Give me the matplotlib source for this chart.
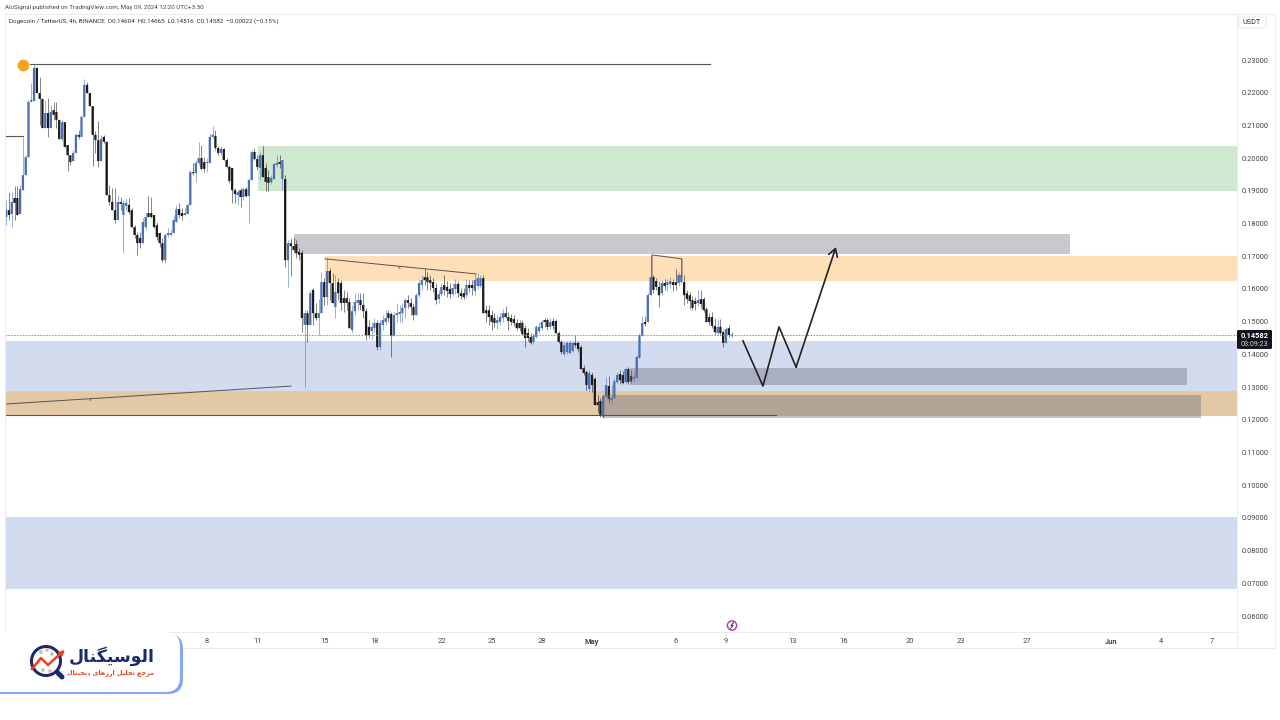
import numpy as np
import matplotlib
matplotlib.use("Agg")
import matplotlib.pyplot as plt
from matplotlib.patches import Circle, FancyBboxPatch

# DOGE/USDT 4h candles, prices in 1/10000 USDT
opens = [
    1820,1841,1829,1878,1878,1829,1902,1948,2003,2172,
    2175,2276,2199,2181,2092,2138,2092,2147,2141,2117,
    2058,2110,2040,2009,1991,2016,2071,2065,2126,2224,
    2199,2159,2071,2055,1991,2065,2050,1887,1866,1841,
    1811,1866,1826,1854,1857,1841,1789,1765,1756,1740,
    1789,1832,1832,1826,1795,1771,1740,1688,1765,1765,
    1771,1805,1844,1832,1826,1829,1857,1957,1954,1985,
    2000,1988,1985,1985,2065,2068,2031,2016,2028,1994,
    1973,1970,1902,1887,1902,1881,1905,1884,1933,2019,
    1997,1970,2009,1970,1942,1927,1936,1979,1988,1936,
    1936,1688,1740,1731,1737,1713,1710,1490,1526,1490,
    1597,1526,1511,1526,1621,1575,1655,1618,1545,1621,
    1618,1572,1572,1560,1474,1532,1557,1566,1551,1532,
    1484,1471,1480,1496,1422,1490,1499,1526,1523,1456,
    1520,1523,1526,1542,1566,1557,1545,1520,1581,1612,
    1636,1636,1627,1621,1603,1569,1584,1612,1606,1600,
    1584,1600,1615,1587,1587,1581,1612,1612,1594,1609,
    1609,1633,1535,1535,1520,1511,1496,1499,1511,1526,
    1514,1511,1508,1496,1496,1496,1480,1465,1453,1438,
    1453,1471,1480,1505,1505,1484,1502,1502,1465,1438,
    1401,1407,1404,1410,1435,1435,1422,1358,1346,1294,
    1337,1325,1254,1257,1208,1270,1303,1260,1266,1315,
    1340,1337,1315,1355,1334,1325,1328,1389,1456,1499,
    1499,1581,1636,1624,1606,1587,1618,1612,1615,1621,
    1621,1618,1621,1621,1587,1581,1566,1563,1557,1569,
    1569,1538,1514,1514,1487,1465,1484,1468,1435,1480,
    1460,
]
closes = [
    1841,1826,1866,1863,1826,1905,1948,2003,2172,2178,
    2276,2199,2181,2092,2138,2092,2141,2132,2117,2058,
    2110,2034,2009,1988,2016,2071,2065,2126,2224,2199,
    2159,2071,2055,1991,2058,2050,1887,1866,1841,1811,
    1866,1860,1863,1863,1835,1789,1765,1740,1740,1805,
    1820,1820,1820,1789,1759,1740,1688,1765,1771,1771,
    1811,1844,1826,1823,1832,1857,1957,1954,1985,2000,
    1967,1967,1988,2065,2071,2031,2016,2028,1994,1973,
    1930,1902,1890,1896,1881,1905,1884,1933,2019,1997,
    1973,2009,1942,1927,1924,1939,1982,1985,1982,1994,
    1688,1740,1731,1719,1710,1704,1511,1526,1490,1587,
    1526,1511,1526,1621,1575,1655,1618,1557,1591,1587,
    1557,1557,1557,1480,1532,1560,1566,1551,1532,1459,
    1459,1484,1496,1422,1496,1505,1511,1511,1456,1520,
    1526,1529,1542,1566,1557,1545,1520,1581,1618,1627,
    1627,1621,1618,1603,1566,1584,1606,1597,1594,1584,
    1603,1615,1587,1578,1575,1612,1603,1603,1627,1633,
    1633,1526,1526,1514,1499,1496,1505,1514,1526,1514,
    1502,1499,1496,1480,1480,1462,1450,1450,1435,1456,
    1484,1484,1499,1499,1484,1499,1487,1465,1438,1407,
    1428,1435,1435,1435,1428,1416,1355,1343,1306,1343,
    1306,1245,1245,1214,1273,1306,1263,1266,1318,1337,
    1321,1312,1355,1315,1318,1331,1392,1459,1496,1493,
    1581,1636,1597,1606,1581,1618,1609,1621,1624,1612,
    1612,1643,1643,1581,1569,1563,1542,1554,1566,1554,
    1535,1499,1499,1487,1468,1484,1465,1435,1477,1459,
    1458,
]
highs = [
    1872,1896,1896,1915,1915,1918,2065,2009,2178,2230,
    2288,2276,2248,2181,2178,2184,2162,2172,2172,2117,
    2117,2110,2040,2009,2025,2077,2086,2132,2242,2233,
    2199,2159,2083,2113,2071,2071,2050,1918,1909,1909,
    1887,1881,1872,1878,1878,1847,1795,1774,1774,1817,
    1835,1884,1881,1826,1805,1774,1756,1771,1786,1780,
    1826,1857,1863,1847,1847,1863,1964,1985,1994,2049,
    2040,2003,2000,2077,2098,2086,2037,2037,2031,2000,
    1979,1970,1909,1902,1909,1912,1912,1939,2025,2031,
    2009,2019,2037,1985,1964,1948,1988,2009,2009,1994,
    1948,1749,1756,1759,1749,1725,1719,1535,1535,1597,
    1603,1557,1569,1652,1633,1695,1664,1649,1643,1633,
    1627,1597,1591,1572,1551,1587,1587,1587,1587,1542,
    1505,1499,1511,1505,1505,1520,1535,1535,1529,1529,
    1557,1551,1557,1572,1581,1572,1557,1587,1627,1643,
    1664,1652,1643,1633,1618,1597,1618,1643,1624,1618,
    1618,1630,1624,1603,1603,1630,1627,1627,1646,1649,
    1643,1643,1551,1551,1535,1526,1520,1526,1538,1548,
    1529,1523,1520,1508,1505,1505,1490,1480,1465,1465,
    1490,1499,1505,1511,1511,1511,1511,1508,1471,1444,
    1441,1441,1444,1441,1459,1441,1428,1367,1352,1352,
    1346,1331,1276,1266,1276,1331,1334,1306,1328,1346,
    1352,1349,1361,1361,1352,1346,1398,1465,1517,1517,
    1587,1704,1643,1633,1624,1627,1630,1630,1636,1630,
    1661,1652,1695,1643,1597,1591,1578,1575,1597,1597,
    1575,1545,1526,1529,1511,1508,1508,1474,1484,1490,
    1467,
]
lows = [
    1795,1811,1789,1811,1826,1829,1902,1948,2003,2172,
    2175,2199,2101,2092,2092,2065,2092,2117,2092,2058,
    2055,2034,1961,1979,1991,2016,2058,2065,2126,2199,
    2159,1976,2016,1973,1991,2046,1887,1857,1841,1802,
    1811,1841,1710,1841,1829,1789,1756,1704,1725,1740,
    1780,1820,1817,1786,1749,1728,1682,1679,1759,1762,
    1771,1805,1817,1811,1823,1829,1857,1948,1927,1979,
    1964,1957,1957,1985,2062,2025,2009,2009,1994,1970,
    1924,1863,1863,1857,1851,1872,1881,1802,1933,1994,
    1964,1933,1942,1899,1899,1921,1936,1973,1970,1902,
    1667,1606,1639,1713,1695,1688,1468,1300,1438,1490,
    1490,1505,1459,1526,1551,1551,1566,1557,1511,1566,
    1535,1529,1535,1480,1465,1520,1535,1535,1511,1444,
    1450,1444,1468,1413,1413,1474,1490,1499,1392,1456,
    1499,1499,1499,1511,1542,1520,1505,1520,1575,1597,
    1612,1597,1597,1591,1554,1557,1578,1581,1575,1572,
    1578,1584,1575,1569,1569,1575,1591,1581,1581,1600,
    1603,1526,1499,1490,1474,1484,1477,1490,1499,1511,
    1474,1490,1487,1474,1471,1459,1422,1441,1432,1432,
    1450,1465,1474,1484,1474,1477,1477,1465,1435,1401,
    1395,1401,1401,1407,1422,1407,1355,1337,1291,1285,
    1285,1245,1224,1208,1205,1270,1251,1245,1266,1309,
    1309,1309,1309,1309,1312,1315,1325,1389,1456,1487,
    1499,1578,1587,1597,1545,1581,1597,1594,1603,1594,
    1597,1609,1618,1551,1557,1538,1535,1535,1548,1542,
    1529,1499,1490,1480,1462,1459,1459,1422,1435,1453,
    1452,
]

# x axis is in days counted from Apr 0, so May 1 is 31 and Jun 1 is 62
date_ticks = [8, 11, 15, 18, 22, 25, 28, 31, 36, 39, 43, 46, 50, 53, 57, 62, 65, 68]
date_labels = ["8", "11", "15", "18", "22", "25", "28", "May", "6", "9", "13", "16",
               "20", "23", "27", "Jun", "4", "7"]
price_ticks = [0.23, 0.22, 0.21, 0.20, 0.19, 0.18, 0.17, 0.16, 0.15, 0.14, 0.13,
               0.12, 0.11, 0.10, 0.09, 0.08, 0.07, 0.06]
last_price = 0.14582

# zones drawn on the chart: left day, right day, top price, bottom price
zone_left = [-4.07, 11.05, 15.05, -4.07, -4.07, 13.2]
zone_right = [69.53, 69.53, 69.53, 69.53, 69.53, 59.55]
zone_top = [0.0903, 0.2037, 0.1701, 0.1441, 0.1288, 0.1768]
zone_bottom = [0.0683, 0.1900, 0.1624, 0.1288, 0.1212, 0.1707]
zone_colors = ["#d3dcee", "#cfe8cf", "#fde0b8", "#d3dcee", "#e3c9a6", "#c8c8cd"]

# order blocks on top, see-through
block_left = [33.27, 31.66]
block_right = [66.54, 67.38]
block_top = [0.1358, 0.1276]
block_bottom = [0.1306, 0.1205]

# projected path with the arrow at the end
path_days = [40.02, 41.21, 42.17, 43.19, 45.57]
path_prices = [0.1441, 0.1303, 0.1484, 0.1361, 0.1728]

blue = "#4a6db5"
dark = "#1c1c1c"
line = "#555555"
tiny = ["Roboto", "DejaVu Sans"]

fig = plt.figure(figsize=(12.8, 7.2), dpi=100, facecolor="white")
ax = fig.add_axes([5 / 1280, 1 - 632 / 720, 1232 / 1280, 618 / 720])
ax.set_xlim(-4.07, 69.53)
ax.set_ylim(0.23 - 572 / 3270.6, 0.23 + 46 / 3270.6)

for l, r, t, b, c in zip(zone_left, zone_right, zone_top, zone_bottom, zone_colors):
    ax.fill_between([l, r], b, t, color=c, linewidth=0, zorder=1)

# candles
o = np.array(opens) / 10000
c = np.array(closes) / 10000
h = np.array(highs) / 10000
lo = np.array(lows) / 10000
days = -4 + np.arange(len(o)) / 6
colors = [blue if c[i] >= o[i] else dark for i in range(len(o))]
ax.vlines(days, lo, h, colors=colors, linewidth=0.7, alpha=0.55, zorder=3)
bars = ax.bar(days, np.maximum(np.abs(c - o), 0.0002), bottom=np.minimum(o, c), width=0.135,
              color=colors, linewidth=0, zorder=4)
for b in bars:
    b.set_snap(False)

for l, r, t, b in zip(block_left, block_right, block_top, block_bottom):
    ax.fill_between([l, r], b, t, color="#6f7280", alpha=0.42, linewidth=0, zorder=5)

# drawn lines
ax.plot([-2.57, 38.05], [0.2289, 0.2289], color=line, lw=0.8, zorder=6)
ax.plot([-4.07, -3.0], [0.2068, 0.2068], color=line, lw=0.8, zorder=6)
ax.plot([-4.07, 41.99], [0.1216, 0.1216], color=line, lw=0.8, zorder=6)
ax.plot([-4.07, 13.02], [0.1248, 0.1303], color=line, lw=0.7, zorder=6)
ax.plot([15.05, 24.07], [0.1692, 0.1646], color=line, lw=0.7, zorder=6)
ax.plot([34.58, 34.58, 36.37, 36.37], [0.1636, 0.1704, 0.1692, 0.1643], color=line, lw=0.7, zorder=6)
ax.text(1.01, 0.1263, "x", fontsize=3.5, color=line, ha="center", va="center", zorder=6)
ax.text(19.47, 0.1667, "x", fontsize=3.5, color=line, ha="center", va="center", zorder=6)
ax.scatter([-3.0], [0.2285], s=72, color="#f7a21b", zorder=7, linewidth=0)

ax.plot(path_days[:-1], path_prices[:-1], color="#222222", lw=1.2, zorder=8)
ax.annotate("", xy=(path_days[-1], path_prices[-1]), xytext=(path_days[-2], path_prices[-2]),
            arrowprops=dict(arrowstyle="->,head_length=0.5,head_width=0.3", color="#222222", lw=1.2,
                            mutation_scale=11, shrinkA=0, shrinkB=0), zorder=8)

# last price line
ax.axhline(last_price, color="#888888", lw=0.6, ls=(0, (2, 1.5)), zorder=6)

# axes
ax.yaxis.tick_right()
ax.set_yticks(price_ticks)
ax.set_yticklabels(["%.5f" % p for p in price_ticks], fontsize=5.4, color="#444444", family=tiny)
ax.set_xticks(date_ticks)
ax.set_xticklabels(date_labels, fontsize=5.4, color="#444444", family=tiny)
for lab in ax.get_xticklabels():
    if lab.get_text() in ("May", "Jun"):
        lab.set_fontweight("bold")
ax.tick_params(axis="both", length=0, pad=3)
ax.tick_params(axis="x", pad=4)
for s in ("top", "bottom", "left", "right"):
    ax.spines[s].set_color("#ececec")
    ax.spines[s].set_linewidth(0.7)

# overlay in pixel units for header, frame, price tag and logo
ov = fig.add_axes([0, 0, 1, 1], facecolor="none")
ov.set_xlim(0, 1280)
ov.set_ylim(720, 0)
ov.axis("off")

ov.plot([1237, 1275, 1275, 5, 5], [14, 14, 648, 648, 14], color="#ececec", lw=0.7, zorder=1)
ov.plot([1237, 1237], [632, 648], color="#ececec", lw=0.7, zorder=1)
ov.text(5, 7, "AloSignal published on TradingView.com, May 09, 2024 12:20 UTC+3:30",
        fontsize=4.5, color="#444444", va="center", family=tiny)
ov.text(9, 21.5, "Dogecoin / TetherUS, 4h, BINANCE  O0.14604  H0.14665  L0.14516  C0.14582  "
        "\u22120.00022 (\u22120.15%)", fontsize=4.5, color="#333333", va="center", family=tiny)

ov.add_patch(FancyBboxPatch((1239, 17), 27, 11, boxstyle="round,pad=0,rounding_size=2",
                            fc="white", ec="#e4e4e4", lw=0.6))
ov.text(1252, 22.5, "USDT", fontsize=5.2, color="#333333", ha="center", va="center", family=tiny)

ov.add_patch(FancyBboxPatch((1237, 330), 35, 19, boxstyle="round,pad=0,rounding_size=1.5",
                            fc="#10131c", ec="none", zorder=5))
ov.text(1241, 335.5, "0.14582", fontsize=5.4, color="white", va="center", fontweight="bold",
        family=tiny, zorder=6)
ov.text(1241, 344, "03:09:23", fontsize=5.2, color="#d8d8d8", va="center", family=tiny, zorder=6)

# small icon above the time axis
ov.add_patch(Circle((732, 625.5), 4.6, fc="white", ec="#b03aa8", lw=1.0, zorder=5))
ov.plot([733.5, 731, 733, 730.5], [622.5, 625.5, 625.5, 628.5], color="#333333", lw=0.7, zorder=6)

# logo card
ov.add_patch(FancyBboxPatch((-30, 634), 213, 60, boxstyle="round,pad=0,rounding_size=15",
                            fc="#82a8f7", ec="none", zorder=10))
ov.add_patch(FancyBboxPatch((-30, 632), 210, 60, boxstyle="round,pad=0,rounding_size=15",
                            fc="white", ec="none", zorder=11))
ov.add_patch(Circle((46, 661), 14.5, fc="white", ec="#1b2a6b", lw=2.2, zorder=12))
ov.plot([57, 62], [672, 677], color="#1b2a6b", lw=3.6, solid_capstyle="round", zorder=12)
ov.scatter([41, 47, 52, 43, 50], [652, 650, 654, 670, 671], s=7,
           color=["#9bd8a5", "#f3b3ad", "#9bd8a5", "#9bd8a5", "#f3b3ad"], zorder=12, linewidth=0)
ov.plot([32, 41, 48, 60], [669, 658, 665, 654], color="#ef3e23", lw=1.8, zorder=13)
ov.annotate("", xy=(65, 650), xytext=(58, 656), zorder=13,
            arrowprops=dict(arrowstyle="-|>", color="#ef3e23", lw=1.4, mutation_scale=7, shrinkA=0, shrinkB=0))
# Persian has to be shaped by hand, matplotlib does not join letters:
# الوسیگنال / مرجع تحلیل ارزهای دیجیتال in visual order with presentation forms
logo_name = "\ufedd\ufe8e\ufee8\ufb95\ufbff\ufeb3\ufeee\ufedf\ufe8d"
logo_sub = ("\ufedd\ufe8e\ufe98\ufbff\ufea0\ufbfe\ufea9 "
            "\ufbfc\ufe8e\ufeeb\ufeaf\ufead\ufe8d "
            "\ufede\ufbff\ufee0\ufea4\ufe97 "
            "\ufeca\ufe9f\ufeae\ufee3")
ov.text(112, 656, logo_name, fontsize=12.4, fontweight="bold", color="#1b2a6b", ha="center",
        va="center", family="DejaVu Sans", zorder=13)
ov.text(111, 672.5, logo_sub, fontsize=4.6, fontweight="bold", color="#e8401f", ha="center",
        va="center", family="DejaVu Sans", zorder=13)

fig.savefig("out.png", dpi=100)
